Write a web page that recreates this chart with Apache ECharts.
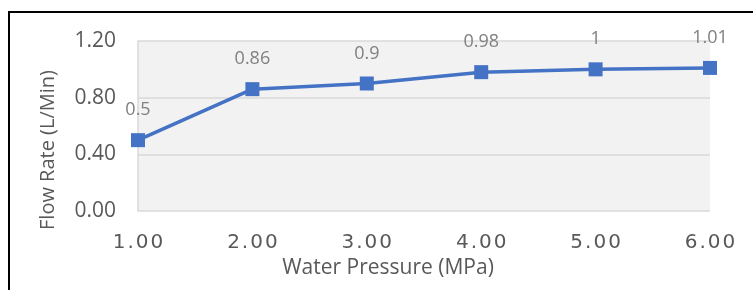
<!DOCTYPE html>
<html>
<head>
<meta charset="utf-8">
<script src="https://cdn.jsdelivr.net/npm/echarts@6/dist/echarts.min.js"></script>
<style>
  html, body { margin: 0; padding: 0; background: #fff; }
  #chart { width: 753px; height: 290px; position: relative; }
  #frame {
    position: absolute; left: 8px; top: 11px; width: 800px; height: 400px;
    border: 2px solid #000; box-sizing: border-box; pointer-events: none;
  }
</style>
</head>
<body>
<div style="position:relative;width:753px;height:290px;overflow:hidden">
  <div id="chart"></div>
  <div id="frame"></div>
</div>
<script>
// water pressure (MPa) vs flow rate (L/Min)
const pressure = [1, 2, 3, 4, 5, 6];
const flowRate = [0.5, 0.86, 0.9, 0.98, 1, 1.01];
const yTicks = { min: 0, max: 1.2, interval: 0.4 };

const chart = echarts.init(document.getElementById('chart'));
const seriesData = pressure.map((p, i) => [p, flowRate[i]]);

chart.setOption({
  animation: false,
  grid: {
    left: 138, right: 43, top: 41, bottom: 79,
    show: true, backgroundColor: '#f2f2f2', borderWidth: 0,
  },
  xAxis: {
    type: 'value', min: 1, max: 6, interval: 1,
    name: 'Water Pressure (MPa)', nameLocation: 'middle', nameGap: 38,
    nameTextStyle: { fontFamily: 'Open Sans', fontSize: 21, color: '#595959', padding: [0, 72, 0, 0] },
    axisLine: { show: false },
    axisTick: { show: false },
    splitLine: { show: false },
    axisLabel: {
      margin: 22, color: '#595959', fontFamily: 'DejaVu Sans', fontSize: 20,
      formatter: v => v.toFixed(2).split('').join('\u200A'),
    },
  },
  yAxis: {
    type: 'value', min: yTicks.min, max: yTicks.max, interval: yTicks.interval,
    name: 'Flow Rate (L/Min)', nameLocation: 'middle', nameGap: 80,
    nameTextStyle: { fontFamily: 'Open Sans', fontSize: 20, color: '#595959', padding: [0, 48, 0, 0] },
    axisLine: { show: true, lineStyle: { color: '#d9d9d9', width: 1.5 } },
    axisTick: { show: false },
    splitLine: { lineStyle: { color: '#d9d9d9', width: 1.5 } },
    axisLabel: {
      margin: 22, color: '#595959', fontFamily: 'Open Sans', fontSize: 21,
      formatter: v => v.toFixed(2),
    },
  },
  series: [{
    type: 'line',
    data: seriesData,
    symbol: 'rect', symbolSize: 14,
    lineStyle: { color: '#4472c4', width: 3.5 },
    itemStyle: { color: '#4472c4' },
    label: {
      show: true, position: 'top', distance: 14,
      color: '#808080', fontFamily: 'Open Sans', fontSize: 18,
      formatter: p => String(p.value[1]),
    },
  }],
});
</script>
</body>
</html>
